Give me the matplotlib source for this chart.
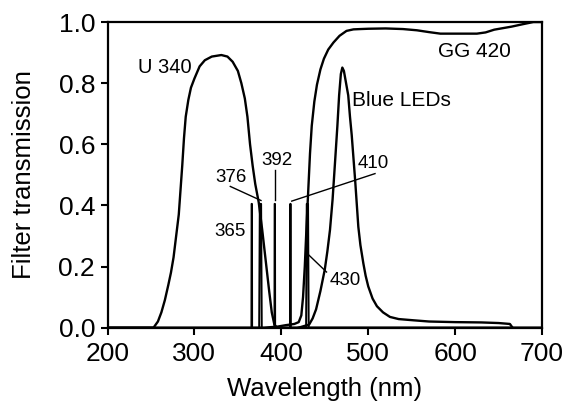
import matplotlib
matplotlib.use("Agg")
import matplotlib.pyplot as plt
import numpy as np

plt.rcParams["font.family"] = ["Liberation Sans", "DejaVu Sans"]

# U 340 filter transmission
u340_wl = [200, 250, 253, 258, 262, 266, 270, 273, 276, 279, 282, 284, 286, 288,
           290, 293, 296, 300, 306, 312, 320, 331, 338, 344, 350, 354, 358, 361,
           364, 367, 370, 374, 378, 382, 386, 389, 392, 395, 700]
u340_t = [0, 0, 0.0, 0.02, 0.05, 0.09, 0.14, 0.18, 0.23, 0.30, 0.37, 0.45, 0.53, 0.62,
          0.69, 0.745, 0.785, 0.815, 0.855, 0.875, 0.887, 0.892, 0.887, 0.87, 0.84,
          0.80, 0.75, 0.69, 0.60, 0.53, 0.47, 0.41, 0.32, 0.22, 0.12, 0.05, 0.01, 0, 0]

# GG 420 filter transmission
gg420_wl = [200, 380, 395, 405, 415, 420, 423, 425, 427, 429, 431, 433, 435, 438,
            441, 445, 449, 454, 460, 467, 475, 483, 491, 500, 520, 540, 556, 570,
            583, 605, 625, 635, 645, 655, 665, 678, 690, 700]
gg420_t = [0, 0, 0.003, 0.008, 0.012, 0.018, 0.04, 0.10, 0.20, 0.33, 0.45, 0.57,
           0.66, 0.74, 0.795, 0.845, 0.88, 0.91, 0.933, 0.955, 0.971, 0.976, 0.977,
           0.978, 0.979, 0.977, 0.973, 0.967, 0.962, 0.962, 0.962, 0.966, 0.975,
           0.98, 0.985, 0.993, 1.0, 1.0]

# Blue LED emission (normalised)
led_wl = [420, 432, 436, 440, 445, 450, 453, 456, 459, 462, 464.5, 466.5, 468.5,
          470.2, 472, 474.5, 477, 479, 481, 485, 488.6, 491, 494.4, 497, 500, 505,
          510, 517, 525, 535, 552, 570, 600, 630, 650, 663, 666]
led_t = [0.0, 0.01, 0.03, 0.06, 0.12, 0.19, 0.25, 0.32, 0.42, 0.55, 0.66, 0.76, 0.83,
         0.851, 0.84, 0.80, 0.76, 0.69, 0.63, 0.48, 0.33, 0.27, 0.21, 0.17, 0.135,
         0.095, 0.07, 0.05, 0.035, 0.028, 0.024, 0.02, 0.018, 0.017, 0.015, 0.012, 0.0]

# narrow UV/violet LED lines
line_center = [366, 376, 392.5, 410.5, 430]
line_height = [0.405, 0.405, 0.405, 0.405, 0.405]
line_width = [0.8, 3.0, 0.8, 0.8, 3.0]

fig = plt.figure(figsize=(5.67, 4.08), dpi=100)
ax = fig.add_axes([0.1896, 0.197, 0.7664, 0.749])

lw = 1.7
ax.plot(u340_wl, u340_t, color="black", lw=lw)
ax.plot(gg420_wl, gg420_t, color="black", lw=lw)
ax.plot(led_wl, led_t, color="black", lw=lw)
for c, h, w in zip(line_center, line_height, line_width):
    ax.plot([c - w / 2, c - w / 4, c + w / 4, c + w / 2], [0, h, h, 0],
            color="black", lw=1.4)

# labels and leader lines
tk = dict(fontsize=13.5, ha="center", va="center")
ax.text(342, 0.491, "376", **tk)
ax.text(341.3, 0.313, "365", **tk)
ax.text(394.7, 0.547, "392", **tk)
ax.text(506, 0.536, "410", **tk)
ax.text(473.3, 0.155, "430", **tk)
ax.plot([341.3, 376.6], [0.462, 0.416], color="black", lw=1.0)
ax.plot([392.7, 392.7], [0.515, 0.416], color="black", lw=1.0)
ax.plot([507.8, 412], [0.504, 0.414], color="black", lw=1.0)
ax.plot([430, 452], [0.242, 0.182], color="black", lw=1.0)

ax.text(266, 0.85, "U 340", fontsize=14.5, ha="center", va="center")
ax.text(621.7, 0.902, "GG 420", fontsize=15, ha="center", va="center")
ax.text(538.5, 0.744, "Blue LEDs", fontsize=15, ha="center", va="center")

ax.set_xlim(200, 700)
ax.set_ylim(0, 1.0)
ax.set_xticks(np.arange(200, 701, 100))
ax.set_yticks(np.arange(0, 1.01, 0.2))
ax.set_yticklabels([f"{v:.1f}" for v in np.arange(0, 1.01, 0.2)])
ax.tick_params(direction="out", length=5, width=1.5, labelsize=19)
ax.tick_params(axis="x", pad=5)
ax.tick_params(axis="y", pad=4)
for s in ax.spines.values():
    s.set_linewidth(1.6)

ax.set_xlabel("Wavelength (nm)", fontsize=18.5)
ax.set_ylabel("Filter transmission", fontsize=18.5)
ax.xaxis.set_label_coords(0.5, -0.16)
ax.yaxis.set_label_coords(-0.165, 0.5)

fig.savefig("out.png", dpi=100)
